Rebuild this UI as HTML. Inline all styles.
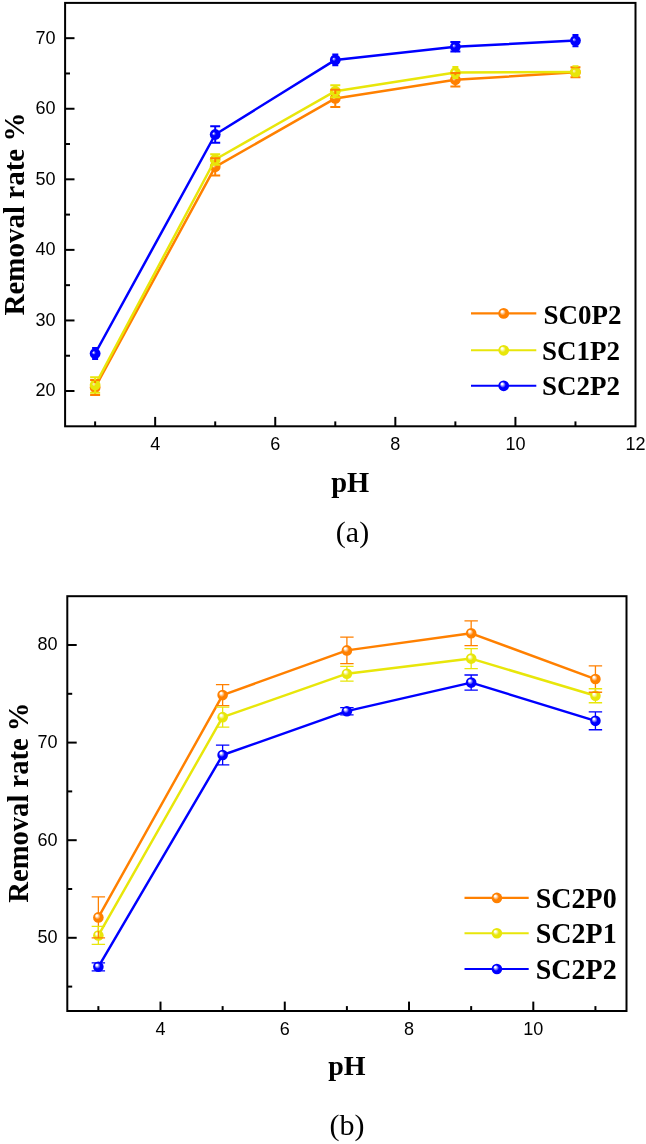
<!DOCTYPE html>
<html><head><meta charset="utf-8"><style>
html,body{margin:0;padding:0;background:#fff;}
body{width:646px;height:1144px;overflow:hidden;}
svg{display:block;will-change:transform;}
</style></head><body>
<svg width="646" height="1144" viewBox="0 0 646 1144">
<defs><radialGradient id="go" cx="0.5" cy="0.5" r="0.5" fx="0.32" fy="0.3"><stop offset="0" stop-color="#fff"/><stop offset="0.15" stop-color="#fff" stop-opacity="0.95"/><stop offset="0.55" stop-color="#ff8000"/><stop offset="1" stop-color="#ff8000"/></radialGradient><radialGradient id="ao" cx="0.5" cy="0.5" r="0.5" fx="0.33" fy="0.4"><stop offset="0" stop-color="#fff" stop-opacity="0.75"/><stop offset="0.35" stop-color="#ff8000"/><stop offset="1" stop-color="#ff8000"/></radialGradient><radialGradient id="gy" cx="0.5" cy="0.5" r="0.5" fx="0.32" fy="0.3"><stop offset="0" stop-color="#fff"/><stop offset="0.15" stop-color="#fff" stop-opacity="0.95"/><stop offset="0.55" stop-color="#e8e60a"/><stop offset="1" stop-color="#e8e60a"/></radialGradient><radialGradient id="ay" cx="0.5" cy="0.5" r="0.5" fx="0.33" fy="0.4"><stop offset="0" stop-color="#fff" stop-opacity="0.75"/><stop offset="0.35" stop-color="#e8e60a"/><stop offset="1" stop-color="#e8e60a"/></radialGradient><radialGradient id="gb" cx="0.5" cy="0.5" r="0.5" fx="0.32" fy="0.3"><stop offset="0" stop-color="#fff"/><stop offset="0.15" stop-color="#fff" stop-opacity="0.95"/><stop offset="0.55" stop-color="#0000ff"/><stop offset="1" stop-color="#0000ff"/></radialGradient><radialGradient id="ab" cx="0.5" cy="0.5" r="0.5" fx="0.33" fy="0.4"><stop offset="0" stop-color="#fff" stop-opacity="0.75"/><stop offset="0.35" stop-color="#0000ff"/><stop offset="1" stop-color="#0000ff"/></radialGradient></defs>
<rect width="646" height="1144" fill="#fff"/>
<line x1="155.16" y1="426.3" x2="155.16" y2="416.9" stroke="#000" stroke-width="2"/>
<line x1="275.25" y1="426.3" x2="275.25" y2="416.9" stroke="#000" stroke-width="2"/>
<line x1="395.33" y1="426.3" x2="395.33" y2="416.9" stroke="#000" stroke-width="2"/>
<line x1="515.42" y1="426.3" x2="515.42" y2="416.9" stroke="#000" stroke-width="2"/>
<line x1="95.12" y1="426.3" x2="95.12" y2="421.4" stroke="#000" stroke-width="2"/>
<line x1="215.21" y1="426.3" x2="215.21" y2="421.4" stroke="#000" stroke-width="2"/>
<line x1="335.29" y1="426.3" x2="335.29" y2="421.4" stroke="#000" stroke-width="2"/>
<line x1="455.37" y1="426.3" x2="455.37" y2="421.4" stroke="#000" stroke-width="2"/>
<line x1="575.46" y1="426.3" x2="575.46" y2="421.4" stroke="#000" stroke-width="2"/>
<line x1="65.1" y1="391.02" x2="74.5" y2="391.02" stroke="#000" stroke-width="2"/>
<line x1="65.1" y1="320.45" x2="74.5" y2="320.45" stroke="#000" stroke-width="2"/>
<line x1="65.1" y1="249.88" x2="74.5" y2="249.88" stroke="#000" stroke-width="2"/>
<line x1="65.1" y1="179.32" x2="74.5" y2="179.32" stroke="#000" stroke-width="2"/>
<line x1="65.1" y1="108.75" x2="74.5" y2="108.75" stroke="#000" stroke-width="2"/>
<line x1="65.1" y1="38.18" x2="74.5" y2="38.18" stroke="#000" stroke-width="2"/>
<line x1="65.1" y1="355.73" x2="70" y2="355.73" stroke="#000" stroke-width="2"/>
<line x1="65.1" y1="285.17" x2="70" y2="285.17" stroke="#000" stroke-width="2"/>
<line x1="65.1" y1="214.6" x2="70" y2="214.6" stroke="#000" stroke-width="2"/>
<line x1="65.1" y1="144.03" x2="70" y2="144.03" stroke="#000" stroke-width="2"/>
<line x1="65.1" y1="73.47" x2="70" y2="73.47" stroke="#000" stroke-width="2"/>
<rect x="65.1" y="2.9" width="570.4" height="423.4" fill="none" stroke="#000" stroke-width="2"/>
<text transform="translate(155.16 449.6) scale(0.95 1)" font-family='"Liberation Sans", sans-serif' font-size="19" text-anchor="middle">4</text>
<text transform="translate(275.25 449.6) scale(0.95 1)" font-family='"Liberation Sans", sans-serif' font-size="19" text-anchor="middle">6</text>
<text transform="translate(395.33 449.6) scale(0.95 1)" font-family='"Liberation Sans", sans-serif' font-size="19" text-anchor="middle">8</text>
<text transform="translate(515.42 449.6) scale(0.95 1)" font-family='"Liberation Sans", sans-serif' font-size="19" text-anchor="middle">10</text>
<text transform="translate(635.5 449.6) scale(0.95 1)" font-family='"Liberation Sans", sans-serif' font-size="19" text-anchor="middle">12</text>
<text transform="translate(55.5 396.42) scale(0.95 1)" font-family='"Liberation Sans", sans-serif' font-size="19" text-anchor="end">20</text>
<text transform="translate(55.5 325.85) scale(0.95 1)" font-family='"Liberation Sans", sans-serif' font-size="19" text-anchor="end">30</text>
<text transform="translate(55.5 255.28) scale(0.95 1)" font-family='"Liberation Sans", sans-serif' font-size="19" text-anchor="end">40</text>
<text transform="translate(55.5 184.72) scale(0.95 1)" font-family='"Liberation Sans", sans-serif' font-size="19" text-anchor="end">50</text>
<text transform="translate(55.5 114.15) scale(0.95 1)" font-family='"Liberation Sans", sans-serif' font-size="19" text-anchor="end">60</text>
<text transform="translate(55.5 43.58) scale(0.95 1)" font-family='"Liberation Sans", sans-serif' font-size="19" text-anchor="end">70</text>
<text transform="translate(24.3 214) rotate(-90)" font-family='"Liberation Serif", serif' font-weight="bold" font-size="29" text-anchor="middle">Removal rate %</text>
<text x="350.2" y="491.5" font-family='"Liberation Serif", serif' font-weight="bold" font-size="28.5" text-anchor="middle">pH</text>
<text x="352.5" y="541.8" font-family='"Liberation Serif", serif' font-size="30" text-anchor="middle">(a)</text>
<polyline points="95.12,387.5 215.21,166.8 335.29,98.4 455.37,79.8 575.46,72.3" fill="none" stroke="#ff8000" stroke-width="2.5" stroke-linejoin="round"/>
<circle cx="95.12" cy="387.5" r="5.4" fill="url(#ao)"/>
<circle cx="215.21" cy="166.8" r="5.4" fill="url(#ao)"/>
<circle cx="335.29" cy="98.4" r="5.4" fill="url(#ao)"/>
<circle cx="455.37" cy="79.8" r="5.4" fill="url(#ao)"/>
<circle cx="575.46" cy="72.3" r="5.4" fill="url(#ao)"/>
<polyline points="95.12,385 215.21,159.5 335.29,91.2 455.37,72.5 575.46,72" fill="none" stroke="#e8e60a" stroke-width="2.5" stroke-linejoin="round"/>
<circle cx="95.12" cy="385" r="5.4" fill="url(#ay)"/>
<circle cx="215.21" cy="159.5" r="5.4" fill="url(#ay)"/>
<circle cx="335.29" cy="91.2" r="5.4" fill="url(#ay)"/>
<circle cx="455.37" cy="72.5" r="5.4" fill="url(#ay)"/>
<circle cx="575.46" cy="72" r="5.4" fill="url(#ay)"/>
<polyline points="95.12,353.5 215.21,134.5 335.29,59.9 455.37,46.75 575.46,40.6" fill="none" stroke="#0000ff" stroke-width="2.5" stroke-linejoin="round"/>
<circle cx="95.12" cy="353.5" r="5.4" fill="url(#ab)"/>
<circle cx="215.21" cy="134.5" r="5.4" fill="url(#ab)"/>
<circle cx="335.29" cy="59.9" r="5.4" fill="url(#ab)"/>
<circle cx="455.37" cy="46.75" r="5.4" fill="url(#ab)"/>
<circle cx="575.46" cy="40.6" r="5.4" fill="url(#ab)"/>
<path d="M95.12 380V383M95.12 395V392M90.12 380H100.12M90.12 395H100.12" stroke="#ff8000" stroke-width="2" fill="none"/>
<path d="M215.21 158.15V162.3M215.21 175.45V171.3M210.21 158.15H220.21M210.21 175.45H220.21" stroke="#ff8000" stroke-width="2" fill="none"/>
<path d="M335.29 89.8V93.9M335.29 107V102.9M330.29 89.8H340.29M330.29 107H340.29" stroke="#ff8000" stroke-width="2" fill="none"/>
<path d="M455.37 73.1V75.3M455.37 86.5V84.3M450.37 73.1H460.37M450.37 86.5H460.37" stroke="#ff8000" stroke-width="2" fill="none"/>
<path d="M575.46 67.3V67.8M575.46 77.3V76.8M570.46 67.3H580.46M570.46 77.3H580.46" stroke="#ff8000" stroke-width="2" fill="none"/>
<path d="M95.12 377.2V380.5M95.12 392.8V389.5M90.12 377.2H100.12M90.12 392.8H100.12" stroke="#e8e60a" stroke-width="2" fill="none"/>
<path d="M215.21 154.3V155M215.21 164.7V164M210.21 154.3H220.21M210.21 164.7H220.21" stroke="#e8e60a" stroke-width="2" fill="none"/>
<path d="M335.29 85.2V86.7M335.29 97.2V95.7M330.29 85.2H340.29M330.29 97.2H340.29" stroke="#e8e60a" stroke-width="2" fill="none"/>
<path d="M455.37 67V68M455.37 78V77M452.37 67H458.37M452.37 78H458.37" stroke="#e8e60a" stroke-width="2" fill="none"/>
<path d="M575.46 66.2V67.5M572.46 66.2H578.46M572.46 76.2H578.46" stroke="#e8e60a" stroke-width="2" fill="none"/>
<path d="M95.12 347.9V349M95.12 359.1V358M92.12 347.9H98.12M92.12 359.1H98.12" stroke="#0000ff" stroke-width="2" fill="none"/>
<path d="M215.21 126.3V130M215.21 142.7V139M210.21 126.3H220.21M210.21 142.7H220.21" stroke="#0000ff" stroke-width="2" fill="none"/>
<path d="M335.29 54.6V55.4M335.29 65.2V64.4M332.29 54.6H338.29M332.29 65.2H338.29" stroke="#0000ff" stroke-width="2" fill="none"/>
<path d="M455.37 42.1V42.25M455.37 51.4V51.25M450.37 42.1H460.37M450.37 51.4H460.37" stroke="#0000ff" stroke-width="2" fill="none"/>
<path d="M575.46 35V36.1M575.46 46.2V45.1M572.46 35H578.46M572.46 46.2H578.46" stroke="#0000ff" stroke-width="2" fill="none"/>
<line x1="471" y1="313.4" x2="536.3" y2="313.4" stroke="#ff8000" stroke-width="2.1"/>
<circle cx="503.7" cy="313.4" r="5.4" fill="url(#go)"/>
<text transform="translate(543.6 323.5) scale(1 1)" font-family='"Liberation Serif", serif' font-weight="bold" font-size="27">SC0P2</text>
<line x1="471" y1="350.3" x2="536.3" y2="350.3" stroke="#e8e60a" stroke-width="2.1"/>
<circle cx="503.7" cy="350.3" r="5.4" fill="url(#gy)"/>
<text transform="translate(542 359.8) scale(1 1)" font-family='"Liberation Serif", serif' font-weight="bold" font-size="27">SC1P2</text>
<line x1="471" y1="385.8" x2="536.3" y2="385.8" stroke="#0000ff" stroke-width="2.1"/>
<circle cx="503.7" cy="385.8" r="5.4" fill="url(#gb)"/>
<text transform="translate(542 395.3) scale(1 1)" font-family='"Liberation Serif", serif' font-weight="bold" font-size="27">SC2P2</text>
<line x1="160.5" y1="1011" x2="160.5" y2="1001.6" stroke="#000" stroke-width="2"/>
<line x1="284.77" y1="1011" x2="284.77" y2="1001.6" stroke="#000" stroke-width="2"/>
<line x1="409.03" y1="1011" x2="409.03" y2="1001.6" stroke="#000" stroke-width="2"/>
<line x1="533.3" y1="1011" x2="533.3" y2="1001.6" stroke="#000" stroke-width="2"/>
<line x1="98.37" y1="1011" x2="98.37" y2="1006.1" stroke="#000" stroke-width="2"/>
<line x1="222.63" y1="1011" x2="222.63" y2="1006.1" stroke="#000" stroke-width="2"/>
<line x1="346.9" y1="1011" x2="346.9" y2="1006.1" stroke="#000" stroke-width="2"/>
<line x1="471.17" y1="1011" x2="471.17" y2="1006.1" stroke="#000" stroke-width="2"/>
<line x1="595.43" y1="1011" x2="595.43" y2="1006.1" stroke="#000" stroke-width="2"/>
<line x1="67.3" y1="937.8" x2="76.7" y2="937.8" stroke="#000" stroke-width="2"/>
<line x1="67.3" y1="840.2" x2="76.7" y2="840.2" stroke="#000" stroke-width="2"/>
<line x1="67.3" y1="742.6" x2="76.7" y2="742.6" stroke="#000" stroke-width="2"/>
<line x1="67.3" y1="645" x2="76.7" y2="645" stroke="#000" stroke-width="2"/>
<line x1="67.3" y1="986.6" x2="72.2" y2="986.6" stroke="#000" stroke-width="2"/>
<line x1="67.3" y1="889" x2="72.2" y2="889" stroke="#000" stroke-width="2"/>
<line x1="67.3" y1="791.4" x2="72.2" y2="791.4" stroke="#000" stroke-width="2"/>
<line x1="67.3" y1="693.8" x2="72.2" y2="693.8" stroke="#000" stroke-width="2"/>
<rect x="67.3" y="596.2" width="559.2" height="414.8" fill="none" stroke="#000" stroke-width="2"/>
<text transform="translate(160.5 1034.7) scale(0.95 1)" font-family='"Liberation Sans", sans-serif' font-size="19" text-anchor="middle">4</text>
<text transform="translate(284.77 1034.7) scale(0.95 1)" font-family='"Liberation Sans", sans-serif' font-size="19" text-anchor="middle">6</text>
<text transform="translate(409.03 1034.7) scale(0.95 1)" font-family='"Liberation Sans", sans-serif' font-size="19" text-anchor="middle">8</text>
<text transform="translate(533.3 1034.7) scale(0.95 1)" font-family='"Liberation Sans", sans-serif' font-size="19" text-anchor="middle">10</text>
<text transform="translate(57.5 943.1) scale(0.95 1)" font-family='"Liberation Sans", sans-serif' font-size="19" text-anchor="end">50</text>
<text transform="translate(57.5 845.5) scale(0.95 1)" font-family='"Liberation Sans", sans-serif' font-size="19" text-anchor="end">60</text>
<text transform="translate(57.5 747.9) scale(0.95 1)" font-family='"Liberation Sans", sans-serif' font-size="19" text-anchor="end">70</text>
<text transform="translate(57.5 650.3) scale(0.95 1)" font-family='"Liberation Sans", sans-serif' font-size="19" text-anchor="end">80</text>
<text transform="translate(27.6 802.6) rotate(-90)" font-family='"Liberation Serif", serif' font-weight="bold" font-size="28.6" text-anchor="middle">Removal rate %</text>
<text x="346.9" y="1075" font-family='"Liberation Serif", serif' font-weight="bold" font-size="28" text-anchor="middle">pH</text>
<text x="347" y="1134.6" font-family='"Liberation Serif", serif' font-size="30" text-anchor="middle">(b)</text>
<polyline points="98.37,917.41 222.63,695.08 346.9,650.38 471.17,633.3 595.43,679.07" fill="none" stroke="#ff8000" stroke-width="2.45" stroke-linejoin="round"/>
<circle cx="98.37" cy="917.41" r="5.3" fill="url(#go)"/>
<circle cx="222.63" cy="695.08" r="5.3" fill="url(#go)"/>
<circle cx="346.9" cy="650.38" r="5.3" fill="url(#go)"/>
<circle cx="471.17" cy="633.3" r="5.3" fill="url(#go)"/>
<circle cx="595.43" cy="679.07" r="5.3" fill="url(#go)"/>
<polyline points="98.37,935.47 222.63,717.14 346.9,673.7 471.17,658.58 595.43,695.76" fill="none" stroke="#e8e60a" stroke-width="2.45" stroke-linejoin="round"/>
<circle cx="98.37" cy="935.47" r="5.3" fill="url(#gy)"/>
<circle cx="222.63" cy="717.14" r="5.3" fill="url(#gy)"/>
<circle cx="346.9" cy="673.7" r="5.3" fill="url(#gy)"/>
<circle cx="471.17" cy="658.58" r="5.3" fill="url(#gy)"/>
<circle cx="595.43" cy="695.76" r="5.3" fill="url(#gy)"/>
<polyline points="98.37,966.8 222.63,755 346.9,711.18 471.17,682.59 595.43,720.84" fill="none" stroke="#0000ff" stroke-width="2.45" stroke-linejoin="round"/>
<circle cx="98.37" cy="966.8" r="5.3" fill="url(#gb)"/>
<circle cx="222.63" cy="755" r="5.3" fill="url(#gb)"/>
<circle cx="346.9" cy="711.18" r="5.3" fill="url(#gb)"/>
<circle cx="471.17" cy="682.59" r="5.3" fill="url(#gb)"/>
<circle cx="595.43" cy="720.84" r="5.3" fill="url(#gb)"/>
<path d="M98.37 896.96V912.91M98.37 937.86V921.91M91.67 896.96H105.07M91.67 937.86H105.07" stroke="#ff8000" stroke-width="1.3" fill="none"/>
<path d="M222.63 684.58V690.58M222.63 705.58V699.58M215.93 684.58H229.33M215.93 705.58H229.33" stroke="#ff8000" stroke-width="1.3" fill="none"/>
<path d="M346.9 637.18V645.88M346.9 663.58V654.88M340.2 637.18H353.6M340.2 663.58H353.6" stroke="#ff8000" stroke-width="1.3" fill="none"/>
<path d="M471.17 620.9V628.8M471.17 645.7V637.8M464.47 620.9H477.87M464.47 645.7H477.87" stroke="#ff8000" stroke-width="1.3" fill="none"/>
<path d="M595.43 665.87V674.57M595.43 692.27V683.57M588.73 665.87H602.13M588.73 692.27H602.13" stroke="#ff8000" stroke-width="1.3" fill="none"/>
<path d="M98.37 926.47V930.97M98.37 944.47V939.97M91.67 926.47H105.07M91.67 944.47H105.07" stroke="#e8e60a" stroke-width="1.3" fill="none"/>
<path d="M222.63 707.14V712.64M222.63 727.14V721.64M215.93 707.14H229.33M215.93 727.14H229.33" stroke="#e8e60a" stroke-width="1.3" fill="none"/>
<path d="M346.9 666.3V669.2M346.9 681.1V678.2M340.2 666.3H353.6M340.2 681.1H353.6" stroke="#e8e60a" stroke-width="1.3" fill="none"/>
<path d="M471.17 648.58V654.08M471.17 668.58V663.08M464.47 648.58H477.87M464.47 668.58H477.87" stroke="#e8e60a" stroke-width="1.3" fill="none"/>
<path d="M595.43 688.76V691.26M595.43 702.76V700.26M588.73 688.76H602.13M588.73 702.76H602.13" stroke="#e8e60a" stroke-width="1.3" fill="none"/>
<path d="M91.67 962.8H105.07M91.67 970.8H105.07" stroke="#0000ff" stroke-width="1.3" fill="none"/>
<path d="M222.63 745.1V750.5M222.63 764.9V759.5M215.93 745.1H229.33M215.93 764.9H229.33" stroke="#0000ff" stroke-width="1.3" fill="none"/>
<path d="M340.2 707.58H353.6M340.2 714.78H353.6" stroke="#0000ff" stroke-width="1.3" fill="none"/>
<path d="M471.17 674.99V678.09M471.17 690.19V687.09M464.47 674.99H477.87M464.47 690.19H477.87" stroke="#0000ff" stroke-width="1.3" fill="none"/>
<path d="M595.43 711.94V716.34M595.43 729.74V725.34M588.73 711.94H602.13M588.73 729.74H602.13" stroke="#0000ff" stroke-width="1.3" fill="none"/>
<line x1="464.5" y1="897.9" x2="528.7" y2="897.9" stroke="#ff8000" stroke-width="2.1"/>
<circle cx="496.9" cy="897.9" r="5.3" fill="url(#go)"/>
<text transform="translate(535.8 907.8) scale(1 1.06)" font-family='"Liberation Serif", serif' font-weight="bold" font-size="28">SC2P0</text>
<line x1="464.5" y1="933.3" x2="528.7" y2="933.3" stroke="#e8e60a" stroke-width="2.1"/>
<circle cx="496.9" cy="933.3" r="5.3" fill="url(#gy)"/>
<text transform="translate(535.8 943.2) scale(1 1.06)" font-family='"Liberation Serif", serif' font-weight="bold" font-size="28">SC2P1</text>
<line x1="464.5" y1="969" x2="528.7" y2="969" stroke="#0000ff" stroke-width="2.1"/>
<circle cx="496.9" cy="969" r="5.3" fill="url(#gb)"/>
<text transform="translate(535.8 978.9) scale(1 1.06)" font-family='"Liberation Serif", serif' font-weight="bold" font-size="28">SC2P2</text>
</svg>
</body></html>
